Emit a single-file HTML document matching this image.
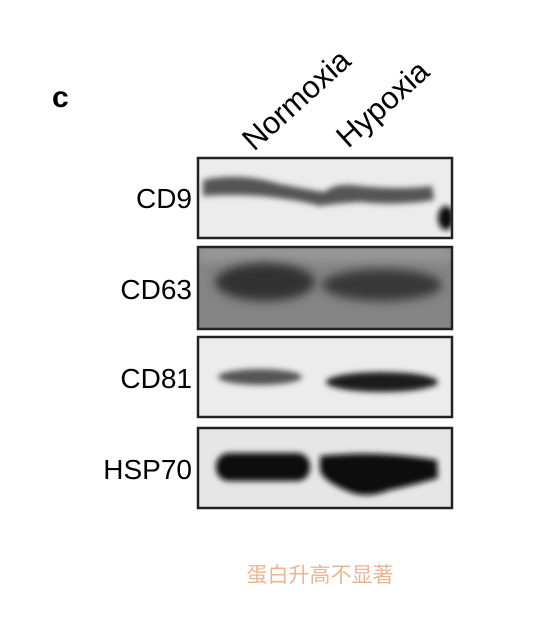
<!DOCTYPE html>
<html><head><meta charset="utf-8"><style>
html,body{margin:0;padding:0;background:#fff;width:548px;height:634px;overflow:hidden}
svg text{font-family:"Liberation Sans",Arial,sans-serif}
</style></head><body>
<svg width="548" height="634" viewBox="0 0 548 634">
<defs>
<filter id="b3" x="-50%" y="-50%" width="200%" height="200%"><feGaussianBlur stdDeviation="3"/></filter>
<filter id="b5" x="-50%" y="-50%" width="200%" height="200%"><feGaussianBlur stdDeviation="5"/></filter>
<clipPath id="c1"><rect x="198" y="158" width="254" height="80"/></clipPath>
<clipPath id="c2"><rect x="198" y="247" width="254" height="82"/></clipPath>
<clipPath id="c3"><rect x="198" y="337" width="254" height="80"/></clipPath>
<clipPath id="c4"><rect x="198" y="428" width="254" height="80"/></clipPath>
</defs>
<rect width="548" height="634" fill="#fff"/>
<text x="52" y="107" font-size="30" font-weight="bold">c</text>
<text transform="translate(254,152) rotate(-42)" font-size="31">Normoxia</text>
<text transform="translate(348,149) rotate(-42)" font-size="31">Hypoxia</text>

<g text-anchor="end" font-size="28">
<text x="192" y="208">CD9</text>
<text x="192" y="299">CD63</text>
<text x="192" y="388">CD81</text>
<text x="192" y="479">HSP70</text>
</g>

<g clip-path="url(#c1)">
<rect x="198" y="158" width="254" height="80" fill="#ececec"/>
<g filter="url(#b3)" fill="#555">
<path d="M203,180 Q240,172 280,184 Q310,190 325,192 Q335,182 360,186 Q400,190 432,186 L434,200 Q400,206 360,202 Q330,204 320,206 Q300,200 260,196 Q230,194 203,196 Z"/>
</g>
<ellipse cx="446" cy="218" rx="8" ry="12" fill="#111" filter="url(#b3)"/>
</g>
<rect x="198" y="158" width="254" height="80" fill="none" stroke="#222" stroke-width="2.5"/>

<g clip-path="url(#c2)">
<rect x="198" y="247" width="254" height="82" fill="#858585"/>
<rect x="198" y="247" width="254" height="14" fill="#999" filter="url(#b5)"/>
<ellipse cx="265" cy="282" rx="50" ry="19" fill="#333" filter="url(#b5)"/>
<ellipse cx="382" cy="285" rx="60" ry="16" fill="#383838" filter="url(#b5)"/>
</g>
<rect x="198" y="247" width="254" height="82" fill="none" stroke="#222" stroke-width="2.5"/>

<g clip-path="url(#c3)">
<rect x="198" y="337" width="254" height="80" fill="#ececec"/>
<ellipse cx="260" cy="377" rx="42" ry="8" fill="#555" filter="url(#b3)"/>
<ellipse cx="382" cy="382" rx="56" ry="10" fill="#1a1a1a" filter="url(#b3)"/>
</g>
<rect x="198" y="337" width="254" height="80" fill="none" stroke="#222" stroke-width="2.5"/>

<g clip-path="url(#c4)">
<rect x="198" y="428" width="254" height="80" fill="#e6e6e6"/>
<rect x="216" y="453" width="94" height="28" rx="13" fill="#0a0a0a" filter="url(#b3)"/>
<path d="M320,456 Q380,450 437,460 L438,478 Q410,486 390,490 Q365,500 345,490 Q322,480 320,470 Z" fill="#0a0a0a" filter="url(#b3)"/>
</g>
<rect x="198" y="428" width="254" height="80" fill="none" stroke="#222" stroke-width="2.5"/>

<text x="320" y="582" text-anchor="middle" font-size="21" fill="#eab595" style="font-family:'Liberation Sans','Noto Sans CJK SC',sans-serif">蛋白升高不显著</text>
</svg>
</body></html>
